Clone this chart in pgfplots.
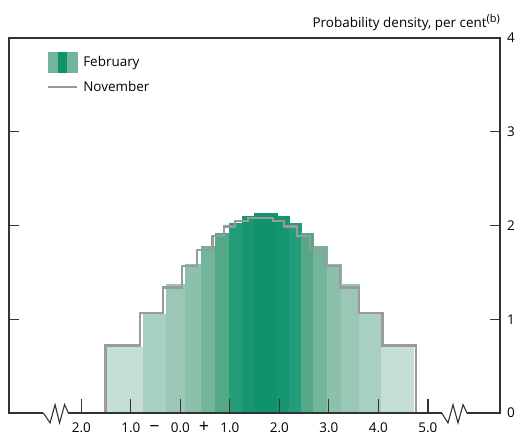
\documentclass[border=0pt]{standalone}
\usepackage{fontspec}
\setmainfont{Open Sans}
\usepackage{pgfplots}
\pgfplotsset{compat=1.18}
\definecolor{c1}{HTML}{C4DED3}
\definecolor{c2}{HTML}{A8D0C0}
\definecolor{c3}{HTML}{9BC8B6}
\definecolor{c4}{HTML}{8CC0AA}
\definecolor{c5}{HTML}{72B59B}
\definecolor{c6}{HTML}{53A886}
\definecolor{c7}{HTML}{249C7A}
\definecolor{c8}{HTML}{16966F}
\definecolor{c9}{HTML}{0E936B}
\definecolor{nov}{HTML}{9A9A9E}
\definecolor{frame}{HTML}{333333}
\newcommand{\band}[4]{\addplot[fill=#1, draw=#1, line width=0.2pt, forget plot] coordinates {(#2,0) (#2,#4) (#3,#4) (#3,0)} -- cycle;}
\begin{document}
\begin{tikzpicture}[font=\fontsize{13.5}{16}\selectfont]
\begin{axis}[
  name=ax, scale only axis, width=491bp, height=375bp,
  xmin=-3.46, xmax=6.455, ymin=0, ymax=4,
  axis on top, clip=false,
  axis line style={draw=frame, line width=1.1bp},
  xtick={-2,-1,0,1,2,3,4,5},
  xticklabels={2.0,1.0,0.0,1.0,2.0,3.0,4.0,5.0},
  ytick={0,1,2,3,4}, yticklabels={0,1,2,3,4},
  xtick pos=lower, ytick pos=both, yticklabel pos=right,
  tick align=inside, major tick length=10bp,
  tick style={draw=frame, line width=1.1bp},
  xtick style={/pgfplots/major tick length=14bp},
  xticklabel style={anchor=base, yshift=-19.5bp, text=black},
  yticklabel style={xshift=3.5bp, text=black},
  legend cell align=left,
  legend style={draw=none, fill=none, at={(axis description cs:0,1)}, anchor=north west,
    xshift=38bp, yshift=-14bp, inner sep=0pt, outer sep=0pt, row sep=9bp,
    nodes={inner sep=0pt},
    /tikz/every odd column/.append style={column sep=5bp}},
]
\addlegendimage{legend image code/.code={
  \fill[c5] (0bp,-10bp) rectangle (10bp,10bp);
  \fill[c9] (10bp,-10bp) rectangle (19bp,10bp);
  \fill[c5] (19bp,-10bp) rectangle (29bp,10bp);}}
\addlegendimage{legend image code/.code={
  \draw[nov, line width=2.3bp] (0bp,0bp) -- (29bp,0bp);}}
% February bands
\band{c1}{-1.474}{-0.759}{0.70}
\band{c2}{-0.759}{-0.289}{1.05}
\band{c3}{-0.289}{0.095}{1.37}
\band{c4}{0.095}{0.418}{1.59}
\band{c5}{0.418}{0.701}{1.78}
\band{c6}{0.701}{0.989}{1.92}
\band{c7}{0.989}{1.252}{2.03}
\band{c8}{1.252}{1.488}{2.10}
\band{c9}{1.488}{1.962}{2.13}
\band{c8}{1.962}{2.195}{2.10}
\band{c7}{2.195}{2.433}{2.03}
\band{c6}{2.433}{2.677}{1.92}
\band{c5}{2.677}{2.956}{1.78}
\band{c4}{2.956}{3.244}{1.59}
\band{c3}{3.244}{3.608}{1.37}
\band{c2}{3.608}{4.046}{1.05}
\band{c1}{4.046}{4.704}{0.70}
% November outline
\addplot[const plot, nov, line width=2.3bp, forget plot] coordinates {
 (-1.51,0) (-1.51,0.72) (-0.81,1.07) (-0.355,1.34) (0.03,1.57) (0.34,1.74)
 (0.65,1.89) (0.88,1.99) (1.11,2.05) (1.37,2.08) (1.87,2.05) (2.10,1.99)
 (2.36,1.89) (2.62,1.74) (2.92,1.57) (3.22,1.34) (3.61,1.07) (4.08,0.72) (4.76,0)};
\legend{February,November}
\node[anchor=base, yshift=-19.5bp, font=\fontsize{18}{18}\selectfont] at (axis cs:-0.52,0) {\char"2212};
\node[anchor=base, yshift=-19.5bp, font=\fontsize{18}{18}\selectfont] at (axis cs:0.48,0) {+};
\node[anchor=base east, inner sep=0pt, yshift=10.7bp] at (rel axis cs:1,1) {Probability density, per cent\raisebox{5bp}{\fontsize{11}{11}\selectfont(b)}};
\coordinate (L0) at (axis cs:-2.766,0);
\coordinate (L1) at (axis cs:-2.631,-0.106);
\coordinate (L2) at (axis cs:-2.530,0.089);
\coordinate (L3) at (axis cs:-2.439,-0.106);
\coordinate (L4) at (axis cs:-2.338,0.089);
\coordinate (L5) at (axis cs:-2.261,0);
\coordinate (R0) at (axis cs:5.278,0);
\coordinate (R1) at (axis cs:5.405,-0.106);
\coordinate (R2) at (axis cs:5.506,0.089);
\coordinate (R3) at (axis cs:5.607,-0.106);
\coordinate (R4) at (axis cs:5.708,0.089);
\coordinate (R5) at (axis cs:5.789,0);
\end{axis}
\draw[white, line width=3bp] (L0) -- (L5);
\draw[white, line width=3bp] (R0) -- (R5);
\draw[frame, line width=1.1bp] (L0) -- (L1) -- (L2) -- (L3) -- (L4) -- (L5);
\draw[frame, line width=1.1bp] (R0) -- (R1) -- (R2) -- (R3) -- (R4) -- (R5);
\pgfresetboundingbox
\path[use as bounding box] ([xshift=-9bp,yshift=-19bp]ax.south west) rectangle ([xshift=17bp,yshift=38bp]ax.north east);
\end{tikzpicture}
\end{document}
